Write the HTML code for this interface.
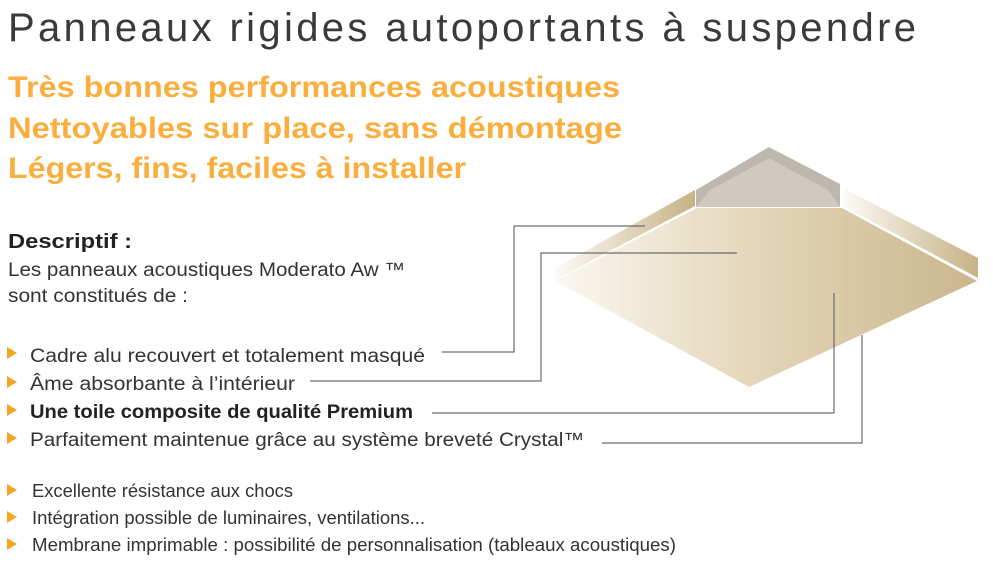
<!DOCTYPE html>
<html><head><meta charset="utf-8"><style>
html,body{margin:0;padding:0;background:#fff;}
svg{display:block;}
</style></head><body>
<svg width="993" height="566" viewBox="0 0 993 566" xmlns="http://www.w3.org/2000/svg">
<defs>
<linearGradient id="top" x1="555" y1="0" x2="978" y2="0" gradientUnits="userSpaceOnUse">
<stop offset="0" stop-color="#fbf8f1"/><stop offset="0.5" stop-color="#e2d4b6"/><stop offset="1" stop-color="#c9b68d"/>
</linearGradient>
<linearGradient id="ls" x1="555" y1="0" x2="695" y2="0" gradientUnits="userSpaceOnUse">
<stop offset="0" stop-color="#fdfbf7"/><stop offset="1" stop-color="#c6b286"/>
</linearGradient>
<linearGradient id="rs" x1="842" y1="0" x2="978" y2="0" gradientUnits="userSpaceOnUse">
<stop offset="0" stop-color="#fdfbf7"/><stop offset="1" stop-color="#c6b286"/>
</linearGradient>
</defs>
<polygon points="555,268 695,190 695,206 555,280" fill="url(#ls)"/>
<polygon points="843,188 978,258 978,278 843,206" fill="url(#rs)"/>
<polygon points="696,190 769,147 840,184 840,207 696,207" fill="#bdb7ae"/>
<polygon points="710,190 769,158 828,190 840,207 696,207" fill="#cfc9c0"/>
<polygon points="555,281 697,208 842,208 977,281 749,387" fill="url(#top)"/>
<g fill="none" stroke="#6d6d6d" stroke-width="1.2">
<polyline points="645,226 514,226 514,352 442,352"/>
<polyline points="737,253 541,253 541,381 310,381"/>
<polyline points="834,293 834,413 432,413"/>
<polyline points="862,335 862,443 602,443"/>
</g>
<g font-family="Liberation Sans Narrow, Liberation Sans, sans-serif">
<text x="8" y="41" font-size="40" fill="#3a3a3a" textLength="910" lengthAdjust="spacing" style="letter-spacing:2px">Panneaux   rigides   autoportants   à   suspendre</text>
</g>
<g font-family="Liberation Sans, sans-serif">
<g fill="#f9ae3e" font-weight="bold" font-size="30">
<text x="8" y="97" textLength="612" lengthAdjust="spacingAndGlyphs">Très bonnes performances acoustiques</text>
<text x="8" y="138" textLength="614" lengthAdjust="spacingAndGlyphs">Nettoyables sur place, sans démontage</text>
<text x="8" y="178" textLength="458" lengthAdjust="spacingAndGlyphs">Légers, fins, faciles à installer</text>
</g>
<text x="8" y="248" font-size="20" font-weight="bold" fill="#222" textLength="124" lengthAdjust="spacingAndGlyphs">Descriptif :</text>
<g fill="#333" font-size="19">
<text x="8" y="276" textLength="397" lengthAdjust="spacingAndGlyphs">Les panneaux acoustiques Moderato Aw ™</text>
<text x="8" y="302" textLength="180" lengthAdjust="spacingAndGlyphs">sont constitués de :</text>
<text x="30" y="362" textLength="395" lengthAdjust="spacingAndGlyphs">Cadre alu recouvert et totalement masqué</text>
<text x="30" y="390" textLength="265" lengthAdjust="spacingAndGlyphs">Âme absorbante à l’intérieur</text>
<text x="30" y="418" font-weight="bold" fill="#222" textLength="383" lengthAdjust="spacingAndGlyphs">Une toile composite de qualité Premium</text>
<text x="30" y="446" textLength="554" lengthAdjust="spacingAndGlyphs">Parfaitement maintenue grâce au système breveté Crystal™</text>
</g>
<g fill="#333" font-size="18">
<text x="32" y="497" textLength="261" lengthAdjust="spacingAndGlyphs">Excellente résistance aux chocs</text>
<text x="32" y="524" textLength="393" lengthAdjust="spacingAndGlyphs">Intégration possible de luminaires, ventilations...</text>
<text x="32" y="551" textLength="644" lengthAdjust="spacingAndGlyphs">Membrane imprimable : possibilité de personnalisation (tableaux acoustiques)</text>
</g>
</g>
<g fill="#f5a623">
<polygon points="7,347 7,359 17,353"/>
<polygon points="7,376 7,388 17,382"/>
<polygon points="7,404 7,416 17,410"/>
<polygon points="7,432 7,444 17,438"/>
<polygon points="7,484 7,496 17,490"/>
<polygon points="7,511 7,523 17,517"/>
<polygon points="7,538 7,550 17,544"/>
</g>
</svg>
</body></html>
